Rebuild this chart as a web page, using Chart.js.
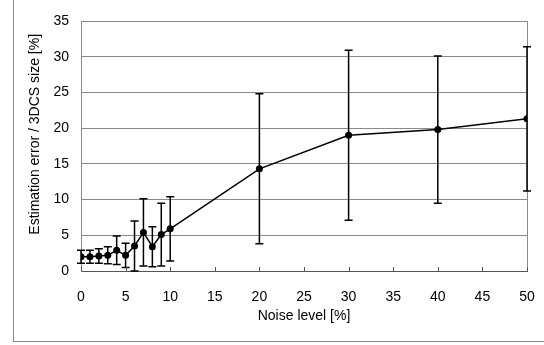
<!DOCTYPE html>
<html>
<head>
<meta charset="utf-8">
<script src="https://cdn.jsdelivr.net/npm/chart.js@4.4.1/dist/chart.umd.min.js"></script>
<style>
  html, body { margin: 0; padding: 0; background: #fff; overflow: hidden; }
  #wrap { position: relative; width: 544px; height: 345px; }
  #frame { position: absolute; left: 13px; top: -10px; width: 560px; height: 350px; border: 1px solid #8a8a8a; }
  #myChart { position: absolute; left: 0; top: 0; }
</style>
</head>
<body>
<div id="wrap">
  <div id="frame"></div>
  <canvas id="myChart" width="544" height="345"></canvas>
</div>
<script>
// Data
const noiseLevels = [0, 1, 2, 3, 4, 5, 6, 7, 8, 9, 10, 20, 30, 40, 50];
const meanError = [2.0, 2.0, 2.1, 2.2, 2.9, 2.2, 3.5, 5.4, 3.4, 5.1, 5.9, 14.3, 19.0, 19.8, 21.3];
const errorSD = [0.9, 0.9, 1.0, 1.2, 2.0, 1.7, 3.5, 4.7, 2.8, 4.4, 4.5, 10.5, 11.9, 10.3, 10.1];
const yTicks = [0, 5, 10, 15, 20, 25, 30, 35];
const xTicks = [0, 5, 10, 15, 20, 25, 30, 35, 40, 45, 50];

const points = noiseLevels.map(function (x, i) {
    return { x: x, y: meanError[i] };
});

const FONT = "'Liberation Sans', Arial, sans-serif";

// draws the error bars and the small inward ticks on the x axis
const errorBars = {
    id: 'errorBars',
    afterDatasetsDraw(chart) {
        const ctx = chart.ctx;
        const xs = chart.scales.x;
        const ys = chart.scales.y;
        ctx.save();
        ctx.strokeStyle = '#000';
        ctx.lineWidth = 1.5;
        noiseLevels.forEach(function (x, i) {
            const px = xs.getPixelForValue(x);
            const top = ys.getPixelForValue(meanError[i] + errorSD[i]);
            const bot = ys.getPixelForValue(Math.max(meanError[i] - errorSD[i], ys.min));
            ctx.beginPath();
            ctx.moveTo(px, top);
            ctx.lineTo(px, bot);
            ctx.moveTo(px - 4, top);
            ctx.lineTo(px + 4, top);
            if (meanError[i] - errorSD[i] >= ys.min) {
                ctx.moveTo(px - 4, bot);
                ctx.lineTo(px + 4, bot);
            }
            ctx.stroke();
        });
        ctx.strokeStyle = '#555';
        ctx.lineWidth = 1;
        const base = ys.getPixelForValue(0);
        xTicks.forEach(function (t) {
            const px = Math.round(xs.getPixelForValue(t)) + 0.5;
            ctx.beginPath();
            ctx.moveTo(px, base);
            ctx.lineTo(px, base - 4);
            ctx.stroke();
        });
        ctx.restore();
    }
};

const chartArea = document.getElementById('myChart');

new Chart(chartArea, {
    type: 'line',
    data: {
        datasets: [{
            label: 'Estimation error',
            data: points,
            borderColor: '#000',
            backgroundColor: '#000',
            borderWidth: 1.5,
            pointRadius: 3.5,
            pointBackgroundColor: '#000',
            pointBorderWidth: 0,
            tension: 0
        }]
    },
    options: {
        responsive: false,
        animation: false,
        events: [],
        layout: { padding: { left: 27, right: 17, top: 21, bottom: 16 } },
        plugins: {
            legend: { display: false },
            tooltip: { enabled: false }
        },
        scales: {
            x: {
                type: 'linear',
                min: 0,
                max: 50,
                afterBuildTicks: function (scale) {
                    scale.ticks = xTicks.map(function (v) { return { value: v }; });
                },
                afterFit: function (scale) {
                    scale.height = 58;
                    scale.paddingLeft = 0;
                    scale.paddingRight = 0;
                },
                ticks: {
                    color: '#000',
                    font: { family: FONT, size: 14 },
                    padding: 18,
                    maxRotation: 0
                },
                grid: {
                    drawTicks: false,
                    lineWidth: 1,
                    color: function (c) {
                        return c.tick && c.tick.value === 50 ? '#8a8a8a' : 'rgba(0,0,0,0)';
                    }
                },
                border: { color: '#555', width: 1 },
                title: {
                    display: true,
                    text: 'Noise level [%]',
                    color: '#000',
                    font: { family: FONT, size: 14 },
                    padding: { top: 2 }
                }
            },
            y: {
                min: 0,
                max: 35,
                afterBuildTicks: function (scale) {
                    scale.ticks = yTicks.map(function (v) { return { value: v }; });
                },
                afterFit: function (scale) {
                    scale.width = 54;
                    scale.paddingTop = 0;
                    scale.paddingBottom = 0;
                },
                ticks: {
                    color: '#000',
                    font: { family: FONT, size: 14 },
                    padding: 12
                },
                grid: {
                    drawTicks: false,
                    color: '#8a8a8a',
                    lineWidth: 1
                },
                border: { color: '#8a8a8a', width: 1 },
                title: {
                    display: true,
                    text: '\u00a0\u00a0\u00a0\u00a0\u00a0\u00a0Estimation error / 3DCS size [%]',
                    color: '#000',
                    font: { family: FONT, size: 14 },
                    padding: 0
                }
            }
        }
    },
    plugins: [errorBars]
});
</script>
</body>
</html>
